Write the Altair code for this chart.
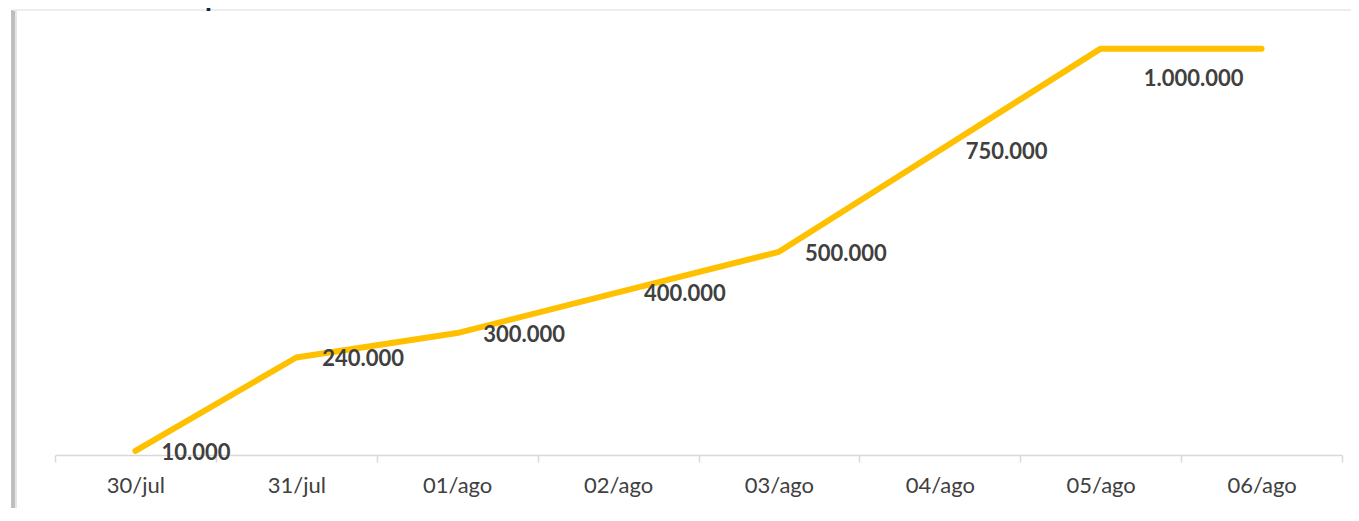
import altair as alt
import pandas as pd

dates = ["30/jul", "31/jul", "01/ago", "02/ago", "03/ago", "04/ago", "05/ago", "06/ago"]
values = [10000, 240000, 300000, 400000, 500000, 750000, 1000000, 1000000]
labels = ["10.000", "240.000", "300.000", "400.000", "500.000", "750.000", "", "1.000.000"]
title_text = "Estimativa de Participantes"

df = pd.DataFrame({"date": dates, "value": values, "label": labels})

FONT = "Lato"
GOLD = "#FFC000"
TEXT = "#404040"

x_enc = alt.X(
    "date:N",
    sort=dates,
    bandPosition=0.5,
    scale=alt.Scale(type="band", paddingInner=0, paddingOuter=0),
    axis=alt.Axis(
        title=None,
        labelAngle=0,
        labelFont=FONT,
        labelFontSize=22,
        labelColor=TEXT,
        labelPadding=13,
        domainColor="#d9d9d9",
        domainWidth=1.5,
        tickColor="#d9d9d9",
        tickWidth=1.5,
        tickSize=7,
        tickBand="extent",
        grid=False,
    ),
)
y_enc = alt.Y("value:Q", scale=alt.Scale(domain=[0, 1100000], nice=False), axis=None)

base = alt.Chart(df)

line = base.mark_line(color=GOLD, strokeWidth=6, strokeCap="round", strokeJoin="round").encode(
    x=x_enc, y=y_enc
)

lab_right = base.transform_filter(
    (alt.datum.label != "") & (alt.datum.date != "06/ago")
).mark_text(
    align="left", baseline="middle", dx=26, dy=2,
    font=FONT, fontSize=22, fontWeight="bold", color=TEXT
).encode(x=x_enc, y=y_enc, text="label:N")

lab_last = base.transform_filter(alt.datum.date == "06/ago").mark_text(
    align="center", baseline="middle", dx=-68, dy=30,
    font=FONT, fontSize=22, fontWeight="bold", color=TEXT
).encode(x=x_enc, y=y_enc, text="label:N")

# frame lines of the original chart box
left_border = alt.Chart(df).mark_rule(color="#bdbdbd", strokeWidth=2.5).encode(
    x=alt.value(-42), y=alt.value(2), y2=alt.value(510)
)
left_shadow = alt.Chart(df).mark_rule(color="#e6e6e6", strokeWidth=3).encode(
    x=alt.value(-39.5), y=alt.value(2), y2=alt.value(510)
)
top_border = alt.Chart(df).mark_rule(color="#ececec", strokeWidth=1.5).encode(
    x=alt.value(-42), x2=alt.value(1310), y=alt.value(2)
)

# title of the original slide, cut off by the top edge as in the reference
title = alt.Chart(pd.DataFrame({"t": [title_text]})).mark_text(
    align="left", baseline="alphabetic", font=FONT, fontSize=28, fontWeight="bold",
    color="#0f2238"
).encode(x=alt.value(-105), y=alt.value(-2), text="t:N")

chart = alt.layer(
    left_shadow, left_border, top_border, line, lab_right, lab_last, title
).properties(
    width=1287,
    height=447,
    autosize=alt.AutoSizeParams(type="none"),
    padding={"left": 47, "top": 0, "right": 9, "bottom": 53},
).configure_view(stroke=None)

chart.save("out.html", embed_options={"renderer": "svg", "actions": False})
